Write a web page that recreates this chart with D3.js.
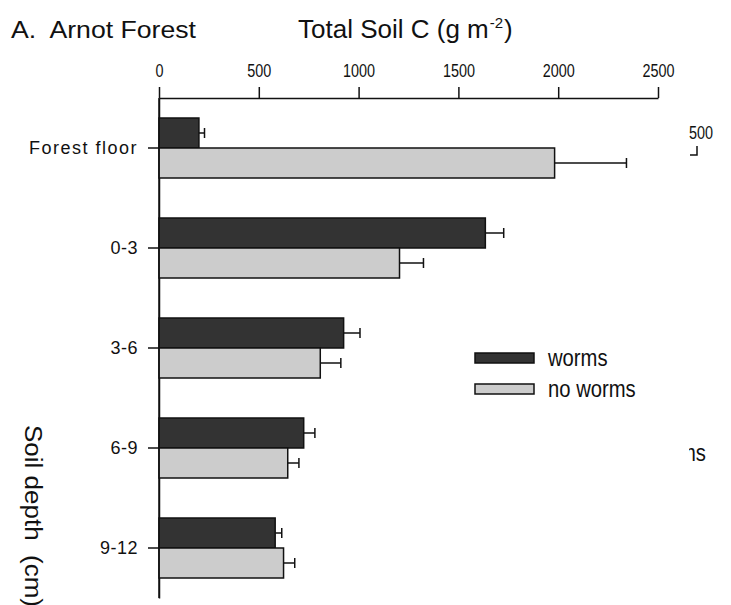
<!DOCTYPE html>
<html><head><meta charset="utf-8">
<script src="https://cdn.jsdelivr.net/npm/d3@7"></script>
<style>
html,body{margin:0;padding:0;background:#fff;}
svg{display:block;}
text{font-family:"Liberation Sans",Arial,sans-serif;fill:#111;}
</style></head>
<body>
<svg id="chart" width="731" height="605"></svg>
<script>
const categories = ["Forest floor", "0-3", "3-6", "6-9", "9-12"];
const series = ["worms", "no worms"];
const wormsValues = [200, 1635, 925, 725, 582];
const wormsErrors = [28, 92, 82, 56, 33];
const noWormsValues = [1982, 1205, 808, 645, 624];
const noWormsErrors = [360, 120, 103, 56, 56];
const xTicks = [0, 500, 1000, 1500, 2000, 2500];
const colors = {"worms": "#333333", "no worms": "#cccccc"};

const svg = d3.select("#chart");
function fitWidth(sel, w) {
  sel.attr("textLength", w).attr("lengthAdjust", "spacingAndGlyphs");
}
function condense(sel, f) {
  sel.each(function() {
    const n = this.getComputedTextLength();
    d3.select(this).attr("textLength", n * f).attr("lengthAdjust", "spacingAndGlyphs");
  });
}

const x = d3.scaleLinear().domain([0, 2500]).range([159, 658]);
const y = d3.scaleBand().domain(categories).range([98, 598]).paddingInner(0.4).paddingOuter(0.2);
const y2 = d3.scaleBand().domain(series).range([0, y.bandwidth()]);

// top axis
const xAxis = svg.append("g").attr("transform", "translate(0,98)")
  .call(d3.axisTop(x).tickValues(xTicks).tickFormat(d3.format("d")).tickSize(11).tickPadding(10).tickSizeOuter(0));
xAxis.select(".domain").attr("stroke", "#111").attr("stroke-width", 1.5);
xAxis.selectAll(".tick line").attr("stroke", "#111").attr("stroke-width", 1.5);
xAxis.selectAll(".tick text").style("font-size", "18px").attr("fill", "#111").call(condense, 0.8);

// left axis
const yAxis = svg.append("g").attr("transform", "translate(159,0)")
  .call(d3.axisLeft(y).tickSize(11).tickPadding(10).tickSizeOuter(0));
yAxis.select(".domain").attr("stroke", "#111").attr("stroke-width", 1.5);
yAxis.selectAll(".tick line").attr("stroke", "#111").attr("stroke-width", 1.5);
yAxis.selectAll(".tick text").style("font-size", "18px").attr("fill", "#111")
  .style("letter-spacing", d => d === "Forest floor" ? "1.5px" : "0.5px");

const rows = categories.map((c, i) => ({
  cat: c,
  bars: [
    {s: "worms", v: wormsValues[i], e: wormsErrors[i]},
    {s: "no worms", v: noWormsValues[i], e: noWormsErrors[i]}
  ]
}));

const g = svg.append("g");
const grp = g.selectAll("g.cat").data(rows).join("g")
  .attr("transform", d => `translate(0,${y(d.cat)})`);
const bar = grp.selectAll("g.bar").data(d => d.bars).join("g");
bar.append("line")
  .attr("x1", d => x(d.v)).attr("x2", d => x(d.v + d.e))
  .attr("y1", d => y2(d.s) + y2.bandwidth() / 2).attr("y2", d => y2(d.s) + y2.bandwidth() / 2)
  .attr("stroke", "#111").attr("stroke-width", 1.5);
bar.append("line")
  .attr("x1", d => x(d.v + d.e)).attr("x2", d => x(d.v + d.e))
  .attr("y1", d => y2(d.s) + y2.bandwidth() / 2 - 5).attr("y2", d => y2(d.s) + y2.bandwidth() / 2 + 5)
  .attr("stroke", "#111").attr("stroke-width", 1.5);
bar.append("rect")
  .attr("x", x(0)).attr("y", d => y2(d.s))
  .attr("width", d => x(d.v) - x(0)).attr("height", y2.bandwidth())
  .attr("fill", d => colors[d.s]).attr("stroke", "#111").attr("stroke-width", 1.5);

svg.append("line").attr("x1", 159).attr("x2", 159).attr("y1", 98).attr("y2", 598)
  .attr("stroke", "#111").attr("stroke-width", 1.5);

// titles
svg.append("text").attr("x", 11).attr("y", 38).style("font-size", "24px")
  .attr("xml:space", "preserve").text("A.  Arnot Forest").call(fitWidth, 185);
const t = svg.append("text").attr("transform", "translate(298,38)").style("font-size", "26px");
t.append("tspan").text("Total Soil C (g m");
t.append("tspan").attr("dx", 1).attr("dy", -10).style("font-size", "15px").text("-2");
t.append("tspan").attr("dx", 1).attr("dy", 10).text(")");

svg.append("text").attr("transform", "translate(25,425) rotate(90)")
  .style("font-size", "23px").attr("xml:space", "preserve").text("Soil depth  (cm)").call(fitWidth, 182);

// legend
const leg = svg.append("g");
series.forEach((s, i) => {
  leg.append("rect").attr("x", 475).attr("y", 353 + i * 31).attr("width", 59).attr("height", 10)
    .attr("fill", colors[s]).attr("stroke", "#111").attr("stroke-width", 1.5);
  leg.append("text").attr("x", 548).attr("y", 366 + i * 31).style("font-size", "23px").text(s).call(condense, 0.88);
});

// clipped remnants of neighbouring panel
svg.append("defs").append("clipPath").attr("id", "rc").append("rect")
  .attr("x", 689).attr("y", 0).attr("width", 42).attr("height", 605);
const rem = svg.append("g").attr("clip-path", "url(#rc)");
rem.append("text").attr("x", 689).attr("y", 139).style("font-size", "18px").text("500").call(condense, 0.8);
rem.append("path").attr("d", "M697,146 V155 H690").attr("fill", "none").attr("stroke", "#111").attr("stroke-width", 1.5);
rem.append("text").attr("x", 679).attr("y", 461).style("font-size", "23px").text("ms").call(condense, 0.88);
</script>
</body></html>
